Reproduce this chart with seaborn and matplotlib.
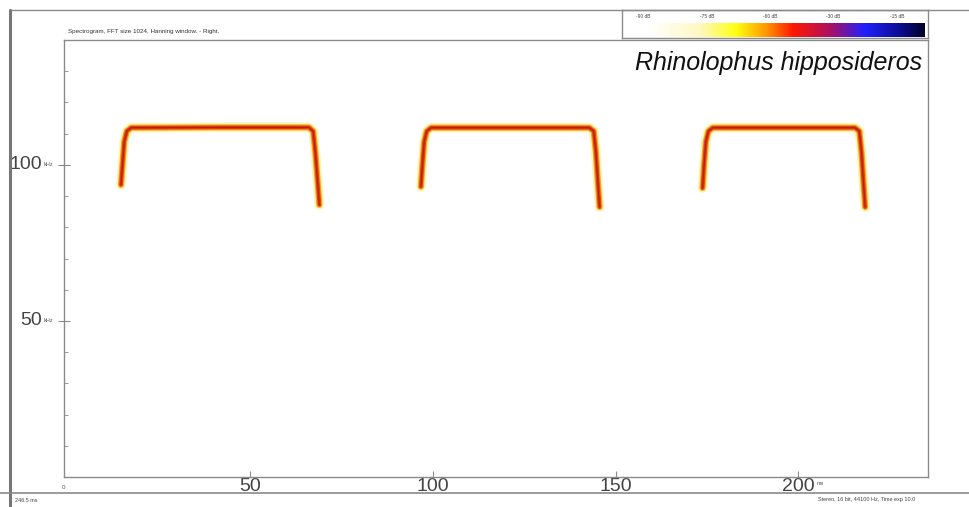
import numpy as np
import pandas as pd
import seaborn as sns
import matplotlib
matplotlib.use('Agg')
import matplotlib.pyplot as plt
from matplotlib.colors import LinearSegmentedColormap
from matplotlib.lines import Line2D

# contour of each call (time in ms, frequency in kHz)
call_ids = [1] * 11 + [2] * 11 + [3] * 11
call_time = [14.6, 15.0, 15.5, 16.2, 17.4, 40.0, 66.0, 67.2, 67.8, 68.4, 68.9,
             96.7, 97.1, 97.6, 98.3, 99.5, 120.0, 142.8, 144.0, 144.6, 145.1, 145.6,
             173.8, 174.2, 174.7, 175.4, 176.6, 196.0, 215.5, 216.7, 217.3, 217.8, 218.3]
call_freq = [93.6, 100.0, 107.5, 110.8, 111.9, 112.0, 112.0, 110.8, 104.0, 95.0, 87.2,
             93.0, 100.0, 107.5, 110.8, 111.9, 111.9, 111.9, 110.8, 104.0, 95.0, 86.5,
             92.6, 100.0, 107.5, 110.8, 111.9, 111.9, 111.9, 110.8, 104.0, 95.0, 86.5]

y_major = [50, 100]
y_minor = [10, 20, 30, 40, 60, 70, 80, 90, 110, 120, 130]
x_major = [50, 100, 150, 200]
db_labels = ["-90 dB", "-75 dB", "-60 dB", "-30 dB", "-15 dB"]
db_stops = [0.0, 0.08, 0.25, 0.37, 0.47, 0.56, 0.68, 0.80, 0.92, 1.0]
db_colors = ["#ffffff", "#ffffff", "#fff8c0", "#ffff10", "#ff9800", "#ff1800",
             "#b0105c", "#2020ff", "#0c0c90", "#000028"]

title_text = "Spectrogram, FFT size 1024, Hanning window. - Right."
species = "Rhinolophus hipposideros"

sns.set_theme(style="white")
plt.rcParams['font.family'] = ['Liberation Sans', 'DejaVu Sans']

W, H = 969, 507
fig = plt.figure(figsize=(W / 100, H / 100), dpi=100)
fig.patch.set_facecolor("white")


def fx(px):
    return px / W


def fy(py):
    return 1 - py / H


frame = "#8a8a8a"
ax = fig.add_axes([fx(64), fy(477), fx(928 - 64), fy(40) - fy(477)])

df = pd.DataFrame({"call": call_ids, "time": call_time, "freq": call_freq})
layers = [("#fff4b0", 7.0, 0.9), ("#f7a41c", 4.4, 1.0),
          ("#e0420e", 2.7, 1.0), ("#b01818", 1.0, 0.8)]
for col, lw, a in layers:
    sns.lineplot(data=df, x="time", y="freq", units="call", estimator=None,
                 sort=False, color=col, lw=lw, alpha=a, ax=ax,
                 solid_capstyle="round", solid_joinstyle="round")

ax.set_xlim(-1, 235.5)
ax.set_ylim(0, 140)
ax.set_xlabel("")
ax.set_ylabel("")
for s in ax.spines.values():
    s.set_color(frame)
    s.set_linewidth(1.0)

ax.set_yticks(y_major)
ax.set_yticks(y_minor, minor=True)
ax.set_yticklabels([])
ax.set_xticks(x_major)
ax.set_xticklabels([str(v) for v in x_major], fontsize=14, color="#444444")
ax.tick_params(axis="x", which="major", direction="in", length=4, width=0.8,
               color=frame, pad=1, bottom=True)
ax.tick_params(axis="y", which="major", direction="inout", length=8, width=0.8,
               color=frame, left=True)
ax.tick_params(axis="y", which="minor", direction="in", length=3, width=0.6,
               color=frame, left=True)

for v in y_major:
    ax.annotate(str(v), xy=(0, v), xycoords=("axes fraction", "data"),
                xytext=(-16, 0), textcoords="offset points", ha="right",
                va="center", fontsize=14, color="#444444")
    ax.annotate("kHz", xy=(0, v), xycoords=("axes fraction", "data"),
                xytext=(-15, 0), textcoords="offset points", ha="left",
                va="center", fontsize=4, color="#555555")
ax.annotate("0", xy=(0, 0), xycoords=("axes fraction", "data"), xytext=(0, -6),
            textcoords="offset points", ha="center", va="top",
            fontsize=4.5, color="#555555")
ax.annotate("ms", xy=(200, 0), xycoords="data", xytext=(13, -3),
            textcoords="offset points", ha="left", va="top",
            fontsize=4, color="#555555")

ax.text(0.993, 0.975, species, transform=ax.transAxes, ha="right", va="top",
        fontsize=18, style="italic", color="#111111")
fig.text(fx(68), fy(32), title_text, fontsize=4.5, color="#333333",
         ha="left", va="center")

# dB colour scale box
cax = fig.add_axes([fx(622), fy(38), fx(928 - 622), fy(10) - fy(38)])
cmap = LinearSegmentedColormap.from_list("db", list(zip(db_stops, db_colors)))
grad = np.linspace(0, 1, 256)[None, :]
cax.imshow(grad, aspect="auto", cmap=cmap, extent=[0.01, 0.99, 0.03, 0.5])
cax.set_xlim(0, 1)
cax.set_ylim(0, 1)
cax.set_xticks([])
cax.set_yticks([])
for s in cax.spines.values():
    s.set_color(frame)
    s.set_linewidth(1.0)
for i, lab in enumerate(db_labels):
    cax.text(0.07 + i * 0.207, 0.78, lab, ha="center", va="center",
             fontsize=3.5, color="#444444")

# outer window frame
fig.add_artist(Line2D([fx(10), 1], [fy(10), fy(10)], color=frame, lw=1.0))
fig.add_artist(Line2D([fx(10), fx(10)], [fy(10), fy(507)], color="#777777", lw=2.2))
fig.add_artist(Line2D([0, 1], [fy(493), fy(493)], color=frame, lw=1.2))
fig.text(fx(15), fy(500), "246.5 ms", fontsize=4, color="#444444", va="center")
fig.text(fx(818), fy(500), "Stereo, 16 bit, 44100 Hz, Time exp 10.0", fontsize=4,
         color="#444444", va="center")

fig.savefig("out.png", dpi=100)
plt.close("all")
